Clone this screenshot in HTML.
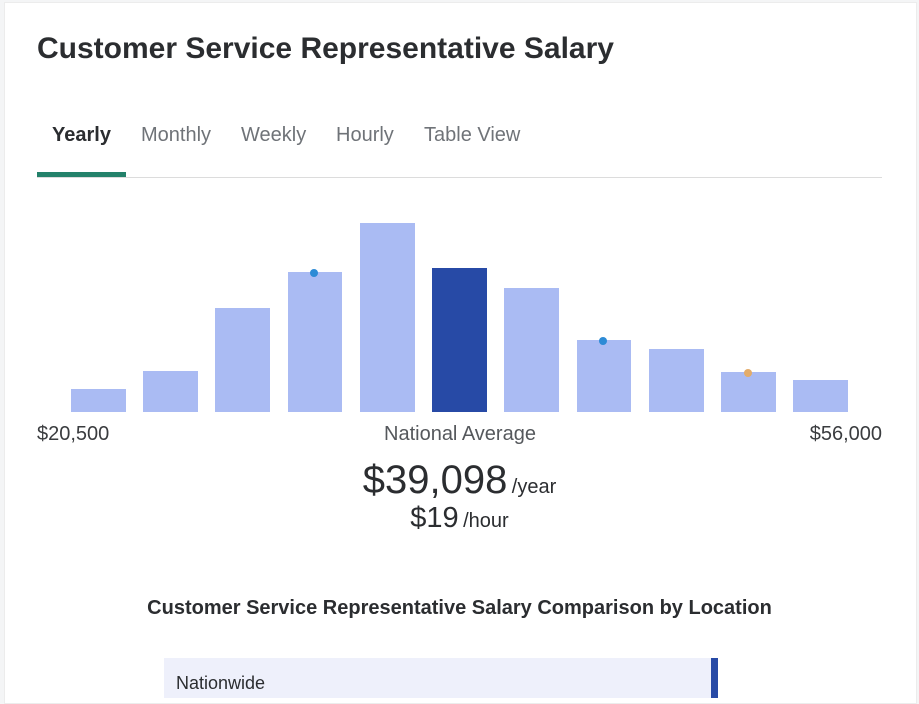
<!DOCTYPE html>
<html><head><style>
body{margin:0;width:919px;height:684px;background:#f4f5f6;font-family:"Liberation Sans",sans-serif;overflow:hidden;position:relative}
.card{position:absolute;left:4px;top:2px;width:911px;height:700px;background:#fff;border:1px solid #ececec}
.t{position:absolute;white-space:nowrap}
</style></head><body>
<div class="card"></div>
<div class="t" style="left:37px;top:32px;font-size:30px;font-weight:bold;color:#2b2d30">Customer Service Representative Salary</div>
<div class="t" style="left:52px;top:124px;font-size:20px;font-weight:bold;color:#2b2d30">Yearly</div>
<div class="t" style="left:141px;top:124px;font-size:20px;color:#6f7378">Monthly</div>
<div class="t" style="left:241px;top:124px;font-size:20px;color:#6f7378">Weekly</div>
<div class="t" style="left:336px;top:124px;font-size:20px;color:#6f7378">Hourly</div>
<div class="t" style="left:424px;top:124px;font-size:20px;color:#6f7378">Table View</div>
<div style="position:absolute;left:37px;top:177px;width:845px;height:1px;background:#dcdcdc"></div>
<div style="position:absolute;left:37px;top:172px;width:89px;height:5px;background:#23816a"></div>
<svg style="position:absolute;left:0;top:0" width="919" height="684">
<g fill="#aabbf3">
<rect x="71" y="389" width="55" height="23"/>
<rect x="143" y="371" width="55" height="41"/>
<rect x="215" y="308" width="55" height="104"/>
<rect x="288" y="272" width="54" height="140"/>
<rect x="360" y="223" width="55" height="189"/>
<rect x="432" y="268" width="55" height="144" fill="#274aa6"/>
<rect x="504" y="288" width="55" height="124"/>
<rect x="577" y="340" width="54" height="72"/>
<rect x="649" y="349" width="55" height="63"/>
<rect x="721" y="372" width="55" height="40"/>
<rect x="793" y="380" width="55" height="32"/>
</g>
<circle cx="314" cy="273" r="4" fill="#2d8bd6"/>
<circle cx="603" cy="341" r="4" fill="#2d8bd6"/>
<circle cx="748" cy="373" r="4" fill="#e3ac6a"/>
</svg>
<div class="t" style="left:37px;top:423px;font-size:20px;color:#3a3c3f">$20,500</div>
<div class="t" style="left:384px;top:423px;font-size:20px;color:#55585c">National Average</div>
<div class="t" style="right:37px;top:423px;font-size:20px;color:#3a3c3f">$56,000</div>
<div class="t" style="left:0;width:919px;text-align:center;top:458px;color:#2b2d30"><span style="font-size:40px">$39,098</span> <span style="font-size:20px">/year</span></div>
<div class="t" style="left:0;width:919px;text-align:center;top:502px;color:#2b2d30"><span style="font-size:29px">$19</span> <span style="font-size:20px">/hour</span></div>
<div class="t" style="left:0;width:919px;text-align:center;top:597px;font-size:20px;font-weight:bold;color:#2b2d30">Customer Service Representative Salary Comparison by Location</div>
<div style="position:absolute;left:164px;top:658px;width:547px;height:40px;background:#eef0fb"></div>
<div style="position:absolute;left:711px;top:658px;width:7px;height:40px;background:#274aa6"></div>
<div class="t" style="left:176px;top:673px;font-size:18px;color:#2b2d30">Nationwide</div>
</body></html>
